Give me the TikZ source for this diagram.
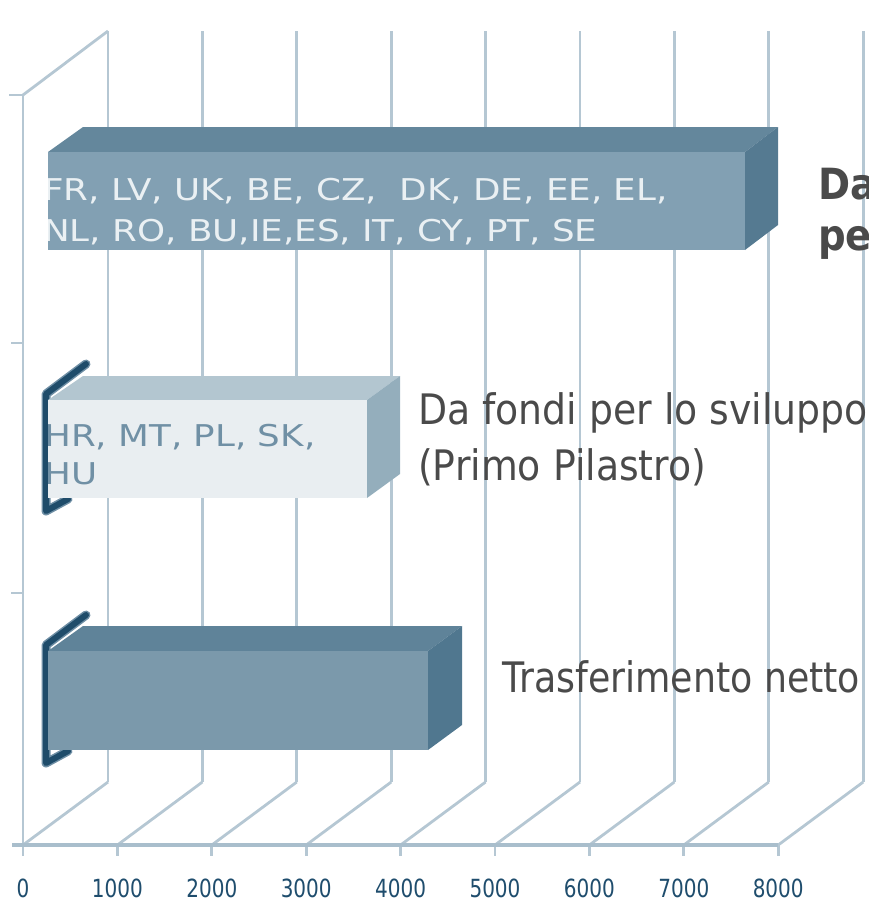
\documentclass[tikz,border=0pt]{standalone}
\usepackage{fontspec}
\setmainfont{DejaVu Sans}
\newfontfamily\barfont[FakeStretch=1.19]{DejaVu Sans}
\newfontfamily\labfont[FakeStretch=0.9]{DejaVu Sans}
\newfontfamily\labfontn[FakeStretch=0.865]{DejaVu Sans}
\newfontfamily\axfont[FakeStretch=0.8]{DejaVu Sans}
\definecolor{gridc}{HTML}{B5C7D3}
\definecolor{axc}{HTML}{A9BECC}
\definecolor{bAfront}{HTML}{82A0B3}
\definecolor{bAtop}{HTML}{64879C}
\definecolor{bAside}{HTML}{557A91}
\definecolor{bBfront}{HTML}{E9EEF1}
\definecolor{bBtop}{HTML}{B3C6D0}
\definecolor{bBside}{HTML}{94AEBC}
\definecolor{bCfront}{HTML}{7B99AB}
\definecolor{bCtop}{HTML}{5F8399}
\definecolor{bCside}{HTML}{50778F}
\definecolor{edgec}{HTML}{1F4C6A}
\definecolor{haloc}{HTML}{6F8FA5}
\definecolor{labc}{HTML}{4A4A4A}
\definecolor{axlab}{HTML}{1F4D6D}
\definecolor{txtA}{HTML}{EAF0F3}
\definecolor{txtB}{HTML}{7090A5}
\tikzset{
  gridline/.style={draw=gridc, line width=2.8pt},
  axisline/.style={draw=axc, line width=3.4pt},
  darkedge/.style={draw=edgec, line width=6pt, line cap=round, line join=round},
  darkhalo/.style={draw=haloc, line width=9pt, line cap=round, line join=round},
  bartext/.style={anchor=base west, inner sep=0pt, font=\barfont\fontsize{30}{32}\selectfont},
  sidelab/.style={anchor=base west, inner sep=0pt, text=labc, font=\labfont\fontsize{42}{46}\selectfont},
  sidelabn/.style={anchor=base west, inner sep=0pt, text=labc, font=\labfontn\fontsize{42}{46}\selectfont},
  boldlab/.style={anchor=base west, inner sep=0pt, text=labc, font=\labfont\bfseries\fontsize{43}{46}\selectfont},
  axislab/.style={anchor=base, inner sep=0pt, text=axlab, font=\axfont\fontsize{25}{27}\selectfont}
}
\begin{document}
\begin{tikzpicture}[x=1pt,y=-1pt]
\useasboundingbox (0,0) rectangle (868,902);
\clip (0,0) rectangle (868,902);
% back wall verticals and floor diagonals
\foreach \i in {0,...,8}{
  \pgfmathsetmacro{\fx}{23+94.4*\i}
  \pgfmathsetmacro{\bx}{108+94.4*\i}
  \draw[gridline] (\bx,31) -- (\bx,782);
  \draw[gridline] (\fx,845) -- (\bx,782);
  \draw[gridline] (\fx,845) -- (\fx,856);
}
% left wall
\draw[gridline] (23,95) -- (23,845);
\draw[gridline] (23,95) -- (108,31);
\draw[gridline] (9,95) -- (23,95);
\draw[gridline] (11,343) -- (23,343);
\draw[gridline] (11,593) -- (23,593);
\draw[axisline] (12,845) -- (778.2,845);
% axis labels
\foreach \v [count=\k from 0] in {0,1000,2000,3000,4000,5000,6000,7000,8000}{
  \node[axislab] (ax\k) at ({23+94.4*\k},897) {\v};
}
% bar 1
\fill[bAtop] (48,152) -- (83,127) -- (778,127) -- (745,152) -- cycle;
\fill[bAside] (745,152) -- (778,127) -- (778,225) -- (745,250) -- cycle;
\fill[bAfront] (48,152) rectangle (745,250);
\begin{scope}
\clip (48,152) rectangle (745,250);
\node[bartext, text=txtA] (a1) at (43,200) {FR, LV, UK, BE, CZ,\ \ DK, DE, EE, EL,};
\node[bartext, text=txtA] (a2) at (43,241) {NL, RO, BU,IE,ES, IT, CY, PT, SE};
\end{scope}
% bar 2
\draw[darkhalo] (68,499) -- (46,511) -- (46,394) -- (86,364);
\draw[darkedge] (68,499) -- (46,511) -- (46,394) -- (86,364);
\fill[bBtop] (48,400) -- (83,376) -- (400,376) -- (367,400) -- cycle;
\fill[bBside] (367,400) -- (400,376) -- (400,474) -- (367,498) -- cycle;
\fill[bBfront] (48,400) rectangle (367,498);
\begin{scope}
\clip (48,400) rectangle (367,498);
\node[bartext, text=txtB] (b1) at (44,446) {HR, MT, PL, SK,};
\node[bartext, text=txtB] (b2) at (44,484) {HU};
\end{scope}
% bar 3
\draw[darkhalo] (68,751) -- (46,763) -- (46,645) -- (86,615);
\draw[darkedge] (68,751) -- (46,763) -- (46,645) -- (86,615);
\fill[bCtop] (48,651) -- (83,626) -- (462,626) -- (428,651) -- cycle;
\fill[bCside] (428,651) -- (462,626) -- (462,725) -- (428,750) -- cycle;
\fill[bCfront] (48,651) rectangle (428,750);
% side labels
\node[boldlab] (l1) at (818,199) {Da};
\node[boldlab] (l2) at (818,250) {pe};
\node[sidelab] (m1) at (418,424) {Da fondi per lo sviluppo};
\node[sidelab] (m2) at (418,480) {(Primo Pilastro)};
\node[sidelabn] (t1) at (502,692) {Trasferimento netto};
\end{tikzpicture}
\end{document}
